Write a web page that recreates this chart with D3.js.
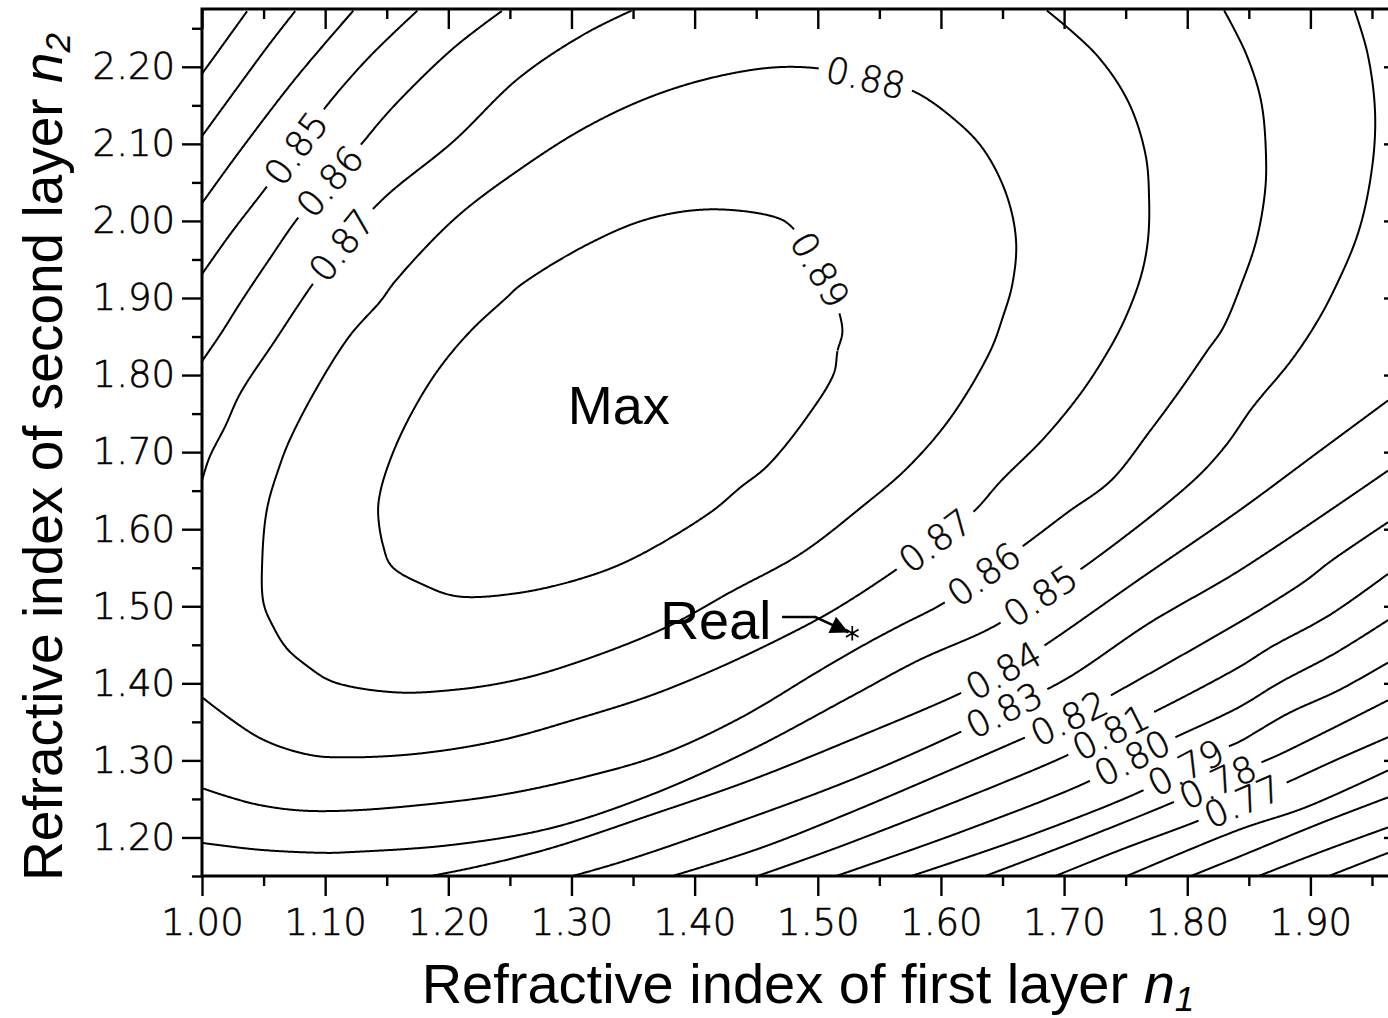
<!DOCTYPE html>
<html>
<head>
<meta charset="utf-8">
<script src="https://cdn.jsdelivr.net/npm/d3@7"></script>
<style>
  body { margin: 0; background: #fff; }
  svg { display: block; }
</style>
</head>
<body>
<svg id="chart" width="1388" height="1018"></svg>
<script>
// tick positions
var xMajor = [1.0, 1.1, 1.2, 1.3, 1.4, 1.5, 1.6, 1.7, 1.8, 1.9];
var xMinor = [1.05, 1.15, 1.25, 1.35, 1.45, 1.55, 1.65, 1.75, 1.85, 1.95];
var yMajor = [1.2, 1.3, 1.4, 1.5, 1.6, 1.7, 1.8, 1.9, 2.0, 2.1, 2.2];
var yMinor = [1.15, 1.25, 1.35, 1.45, 1.55, 1.65, 1.75, 1.85, 1.95, 2.05, 2.15, 2.25];

// contour lines, points are [n1, n2]
var c089 = [[1.520,1.858],[1.516,1.831],[1.513,1.802],[1.491,1.745],[1.459,1.682],[1.437,1.654],[1.413,1.622],[1.350,1.562],[1.310,1.537],[1.256,1.517],[1.207,1.513],[1.181,1.527],[1.154,1.552],[1.147,1.579],[1.143,1.622],[1.145,1.650],[1.154,1.695],[1.169,1.747],[1.191,1.805],[1.218,1.857],[1.247,1.900],[1.258,1.916],[1.310,1.967],[1.361,2.002],[1.412,2.015],[1.463,2.006],[1.477,1.995],[1.497,1.950],[1.512,1.905]];
var c088 = [[1.539,2.186],[1.578,2.168],[1.610,2.133],[1.634,2.094],[1.653,2.035],[1.661,1.974],[1.658,1.918],[1.650,1.874],[1.640,1.831],[1.608,1.745],[1.573,1.680],[1.535,1.628],[1.486,1.568],[1.431,1.520],[1.372,1.469],[1.285,1.417],[1.242,1.400],[1.201,1.391],[1.161,1.388],[1.120,1.396],[1.102,1.405],[1.085,1.423],[1.069,1.445],[1.058,1.473],[1.050,1.504],[1.049,1.563],[1.053,1.628],[1.063,1.682],[1.071,1.715],[1.092,1.780],[1.120,1.851],[1.145,1.896],[1.157,1.922],[1.206,2.004],[1.259,2.068],[1.310,2.120],[1.361,2.159],[1.412,2.185],[1.463,2.199],[1.500,2.198]];
var c087a = [[1.000,1.663],[1.006,1.693],[1.019,1.734],[1.031,1.776],[1.059,1.844],[1.089,1.916],[1.116,1.974],[1.148,2.030],[1.204,2.103],[1.257,2.185],[1.310,2.242],[1.349,2.273]];
var c087b = [[1.686,2.273],[1.726,2.216],[1.752,2.155],[1.766,2.087],[1.769,2.030],[1.768,1.974],[1.762,1.926],[1.748,1.868],[1.732,1.821],[1.712,1.773],[1.683,1.717],[1.649,1.663],[1.626,1.622],[1.595,1.585],[1.565,1.549],[1.513,1.495],[1.472,1.460],[1.415,1.417],[1.364,1.384],[1.307,1.355],[1.242,1.326],[1.177,1.309],[1.120,1.304],[1.088,1.307],[1.047,1.329],[1.000,1.382]];
var c086a = [[1.000,1.818],[1.015,1.853],[1.032,1.896],[1.055,1.951],[1.078,2.004],[1.104,2.052],[1.128,2.097],[1.154,2.146],[1.204,2.224],[1.244,2.273]];
var c086b = [[1.830,2.273],[1.848,2.216],[1.860,2.155],[1.864,2.081],[1.863,2.036],[1.856,1.974],[1.844,1.918],[1.829,1.861],[1.816,1.831],[1.794,1.780],[1.770,1.728],[1.738,1.663],[1.703,1.622],[1.669,1.581],[1.635,1.542],[1.602,1.504],[1.567,1.475],[1.540,1.452],[1.502,1.417],[1.437,1.355],[1.372,1.307],[1.307,1.277],[1.242,1.255],[1.177,1.242],[1.120,1.235],[1.080,1.235],[1.047,1.242],[1.023,1.252],[1.000,1.264]];
var c085a = [[1.000,1.931],[1.023,1.983],[1.050,2.039],[1.076,2.094],[1.102,2.151],[1.136,2.213],[1.175,2.273]];
var c085b = [[1.936,2.273],[1.946,2.220],[1.952,2.155],[1.952,2.099],[1.946,2.030],[1.937,1.976],[1.920,1.913],[1.905,1.868],[1.884,1.818],[1.853,1.758],[1.831,1.708],[1.805,1.663],[1.723,1.559],[1.681,1.514],[1.642,1.473],[1.582,1.430],[1.526,1.382],[1.445,1.313],[1.364,1.255],[1.283,1.212],[1.201,1.190],[1.120,1.181],[1.102,1.180],[1.047,1.184],[1.000,1.193]];
var c084a = [[1.000,2.023],[1.029,2.087],[1.076,2.185],[1.123,2.273]];
var c084b = [[1.963,1.767],[1.908,1.702],[1.842,1.624],[1.762,1.536],[1.682,1.447],[1.651,1.417],[1.617,1.388],[1.526,1.326],[1.445,1.274],[1.364,1.229],[1.283,1.186],[1.226,1.163],[1.186,1.150]];
var c083a = [[1.000,2.110],[1.031,2.178],[1.055,2.230],[1.076,2.273]];
var c083b = [[1.963,1.676],[1.842,1.546],[1.770,1.479],[1.702,1.406],[1.651,1.365],[1.616,1.337],[1.526,1.274],[1.405,1.203],[1.340,1.168],[1.301,1.150]];
var c082a = [[1.000,2.191],[1.019,2.233],[1.037,2.273]];
var c082b = [[1.963,1.609],[1.917,1.559],[1.896,1.533],[1.868,1.504],[1.842,1.479],[1.742,1.388],[1.704,1.355],[1.663,1.326],[1.526,1.232],[1.453,1.186],[1.382,1.150]];
var c081 = [[1.963,1.542],[1.915,1.488],[1.868,1.447],[1.842,1.421],[1.772,1.362],[1.738,1.337],[1.703,1.307],[1.526,1.193],[1.451,1.150]];
var c080 = [[1.963,1.482],[1.920,1.439],[1.874,1.400],[1.842,1.369],[1.789,1.329],[1.755,1.303],[1.719,1.272],[1.616,1.207],[1.515,1.150]];
var c079 = [[1.963,1.427],[1.923,1.391],[1.882,1.361],[1.842,1.324],[1.832,1.317],[1.799,1.291],[1.764,1.261],[1.673,1.203],[1.576,1.150]];
var c078 = [[1.963,1.378],[1.916,1.340],[1.874,1.307],[1.861,1.298],[1.825,1.272],[1.789,1.246],[1.713,1.197],[1.636,1.150]];
var c077 = [[1.963,1.330],[1.920,1.300],[1.879,1.270],[1.845,1.247],[1.811,1.223],[1.746,1.184],[1.693,1.150]];
var c076 = [[1.963,1.287],[1.896,1.239],[1.842,1.210],[1.751,1.150]];
var c075 = [[1.963,1.252],[1.909,1.219],[1.842,1.175],[1.803,1.150]];
var c074 = [[1.963,1.213],[1.908,1.181],[1.858,1.150]];
var c073 = [[1.963,1.180],[1.915,1.150]];

var pieces = [
    {level: 0.89, closed: true, pts: c089},
    {level: 0.88, closed: true, pts: c088},
    {level: 0.87, pts: c087a}, {level: 0.87, pts: c087b},
    {level: 0.86, pts: c086a}, {level: 0.86, pts: c086b},
    {level: 0.85, pts: c085a}, {level: 0.85, pts: c085b},
    {level: 0.84, pts: c084a}, {level: 0.84, pts: c084b},
    {level: 0.83, pts: c083a}, {level: 0.83, pts: c083b},
    {level: 0.82, pts: c082a}, {level: 0.82, pts: c082b},
    {level: 0.81, pts: c081}, {level: 0.80, pts: c080},
    {level: 0.79, pts: c079}, {level: 0.78, pts: c078},
    {level: 0.77, pts: c077}, {level: 0.76, pts: c076},
    {level: 0.75, pts: c075}, {level: 0.74, pts: c074},
    {level: 0.73, pts: c073}
];

// where the level labels sit: [level, n1, n2]
var labelSpots = [
    [0.89, 1.500, 1.935], [0.88, 1.539, 2.186],
    [0.87, 1.115, 1.967], [0.86, 1.103, 2.052], [0.85, 1.076, 2.094],
    [0.87, 1.595, 1.585], [0.86, 1.635, 1.542], [0.85, 1.681, 1.514],
    [0.84, 1.651, 1.417], [0.83, 1.651, 1.365], [0.82, 1.704, 1.355],
    [0.81, 1.738, 1.337], [0.80, 1.755, 1.303], [0.79, 1.799, 1.291],
    [0.78, 1.825, 1.272], [0.77, 1.845, 1.247]
];

// annotations
var maxSpot = [1.297, 1.737];
var realText = [1.372, 1.458];
var realPoint = [1.528, 1.465];
var realArrow = [[1.471, 1.486], [1.498, 1.486], [1.525, 1.466]];

var svg = d3.select("#chart");
var x = d3.scaleLinear().domain([1.0, 1.976]).range([202, 1404]);
var y = d3.scaleLinear().domain([1.15, 2.275]).range([876, 9]);
var tickFont = "'DejaVu Sans', sans-serif";
var titleFont = "'Liberation Sans', Arial, sans-serif";

svg.append("defs").append("clipPath").attr("id", "plotClip")
    .append("rect")
    .attr("x", x.range()[0]).attr("y", y.range()[1])
    .attr("width", x.range()[1] - x.range()[0])
    .attr("height", y.range()[0] - y.range()[1]);

svg.select("defs").append("marker")
    .attr("id", "head")
    .attr("viewBox", "0 0 10 10")
    .attr("refX", 10).attr("refY", 5)
    .attr("markerUnits", "userSpaceOnUse")
    .attr("markerWidth", 26).attr("markerHeight", 18)
    .attr("orient", "auto")
    .append("path").attr("d", "M0,0 L10,5 L0,10 Z").attr("fill", "#000");

// sample every contour piece along its smoothed path
var probe = svg.append("path").attr("fill", "none").attr("stroke", "none");
pieces.forEach(function (piece) {
    var gen = d3.line()
        .x(function (d) { return x(d[0]); })
        .y(function (d) { return y(d[1]); })
        .curve(piece.closed ? d3.curveCatmullRomClosed : d3.curveCatmullRom);
    probe.attr("d", gen(piece.pts));
    var node = probe.node();
    var len = node.getTotalLength();
    piece.samples = [];
    for (var s = 0; s <= len; s += 1) {
        var p = node.getPointAtLength(s);
        piece.samples.push({x: p.x, y: p.y, gap: false});
    }
});
probe.remove();

var plot = svg.append("g").attr("clip-path", "url(#plotClip)");
var lineLayer = plot.append("g");
var labelLayer = plot.append("g")
    .attr("font-family", tickFont)
    .attr("font-weight", 200)
    .attr("font-size", 36)
    .attr("stroke", "#000")
    .attr("stroke-width", 0.5);

labelSpots.forEach(function (spot) {
    var px = x(spot[1]), py = y(spot[2]);
    var best = null;
    pieces.forEach(function (piece) {
        if (Math.abs(piece.level - spot[0]) > 1e-6) return;
        piece.samples.forEach(function (s, i) {
            var d = (s.x - px) * (s.x - px) + (s.y - py) * (s.y - py);
            if (!best || d < best.d) best = {d: d, piece: piece, i: i};
        });
    });
    var sm = best.piece.samples;
    var a = sm[Math.max(0, best.i - 10)];
    var b = sm[Math.min(sm.length - 1, best.i + 10)];
    var ang = Math.atan2(b.y - a.y, b.x - a.x) * 180 / Math.PI;
    if (ang > 90) ang -= 180;
    if (ang < -90) ang += 180;
    var c = sm[best.i];
    var t = labelLayer.append("text")
        .attr("transform", "translate(" + c.x + "," + c.y + ") rotate(" + ang + ")")
        .attr("text-anchor", "middle")
        .attr("dy", "0.36em")
        .text(d3.format(".2f")(spot[0]));
    var half = t.node().getComputedTextLength() / 2 + 7;
    sm.forEach(function (s) {
        if (Math.hypot(s.x - c.x, s.y - c.y) < half) s.gap = true;
    });
});

var sampleLine = d3.line()
    .defined(function (d) { return !d.gap; })
    .x(function (d) { return d.x; })
    .y(function (d) { return d.y; });

lineLayer.selectAll("path.contour")
    .data(pieces)
    .enter().append("path")
    .classed("contour", true)
    .attr("fill", "none")
    .attr("stroke", "#000")
    .attr("stroke-width", 2)
    .attr("stroke-linejoin", "round")
    .attr("d", function (d) { return sampleLine(d.samples); });

// axes
function drawAxis(axis, transform, withText) {
    var g = svg.append("g").attr("transform", transform).call(axis);
    g.select(".domain").remove();
    g.selectAll(".tick line").attr("stroke", "#000").attr("stroke-width", 2.4);
    g.attr("font-family", tickFont).attr("font-size", 37);
    g.selectAll(".tick text")
        .attr("fill", "#000")
        .attr("font-weight", 200)
        .attr("stroke", "#000")
        .attr("stroke-width", 0.6);
    if (!withText) g.selectAll(".tick text").remove();
    return g;
}
var fmt = d3.format(".2f");
drawAxis(d3.axisBottom(x).tickValues(xMajor).tickSize(20).tickPadding(13).tickFormat(fmt), "translate(0,876)", true);
drawAxis(d3.axisBottom(x).tickValues(xMinor).tickSize(10), "translate(0,876)", false);
drawAxis(d3.axisBottom(x).tickValues(xMajor).tickSize(20), "translate(0,9)", false);
drawAxis(d3.axisBottom(x).tickValues(xMinor).tickSize(10), "translate(0,9)", false);
drawAxis(d3.axisLeft(y).tickValues(yMajor).tickSize(20).tickPadding(7).tickFormat(fmt), "translate(202,0)", true);
drawAxis(d3.axisLeft(y).tickValues(yMinor).tickSize(10), "translate(202,0)", false);
drawAxis(d3.axisLeft(y).tickValues(yMajor).tickSize(20), "translate(1404,0)", false);
drawAxis(d3.axisLeft(y).tickValues(yMinor).tickSize(10), "translate(1404,0)", false);

svg.append("rect")
    .attr("x", x.range()[0]).attr("y", y.range()[1])
    .attr("width", x.range()[1] - x.range()[0])
    .attr("height", y.range()[0] - y.range()[1])
    .attr("fill", "none")
    .attr("stroke", "#000")
    .attr("stroke-width", 3);

// annotations
svg.append("text")
    .attr("x", x(maxSpot[0])).attr("y", y(maxSpot[1]))
    .attr("font-family", titleFont).attr("font-size", 54)
    .text("Max");
svg.append("text")
    .attr("x", x(realText[0])).attr("y", y(realText[1]))
    .attr("font-family", titleFont).attr("font-size", 54)
    .text("Real");
svg.append("path")
    .attr("d", d3.line().x(function (d) { return x(d[0]); }).y(function (d) { return y(d[1]); })(realArrow))
    .attr("fill", "none")
    .attr("stroke", "#000")
    .attr("stroke-width", 2.5)
    .attr("marker-end", "url(#head)");
svg.append("path")
    .attr("transform", "translate(" + x(realPoint[0]) + "," + y(realPoint[1]) + ")")
    .attr("d", d3.symbol(d3.symbolAsterisk, 150)())
    .attr("fill", "none")
    .attr("stroke", "#000")
    .attr("stroke-width", 1.7);

// axis titles
var xt = svg.append("text")
    .attr("x", 808).attr("y", 1003)
    .attr("text-anchor", "middle")
    .attr("font-family", titleFont).attr("font-size", 56);
xt.append("tspan").text("Refractive index of first layer ");
xt.append("tspan").attr("font-style", "italic").text("n");
xt.append("tspan").attr("font-style", "italic").attr("font-size", 35).attr("dy", 8).text("1");

var yt = svg.append("text")
    .attr("transform", "translate(62,457) rotate(-90)")
    .attr("text-anchor", "middle")
    .attr("font-family", titleFont).attr("font-size", 55);
yt.append("tspan").text("Refractive index of second layer ");
yt.append("tspan").attr("font-style", "italic").text("n");
yt.append("tspan").attr("font-style", "italic").attr("font-size", 35).attr("dy", 8).text("2");
</script>
</body>
</html>
